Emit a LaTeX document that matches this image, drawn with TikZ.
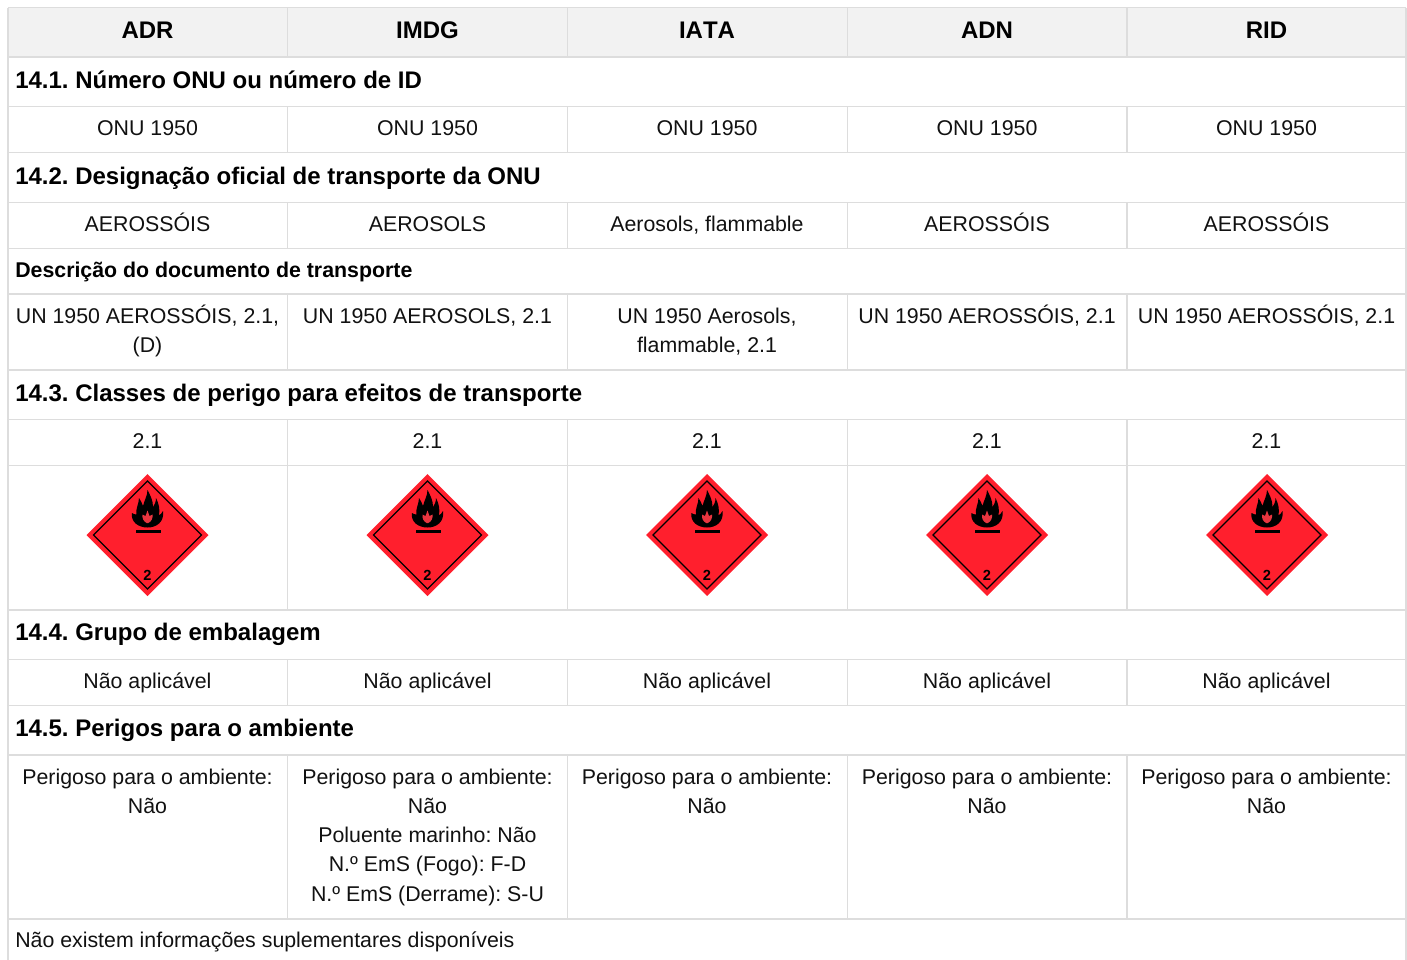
\documentclass[tikz,border=0pt]{standalone}
\usepackage{fontspec}
\setmainfont{Liberation Sans}
\frenchspacing
\definecolor{gridc}{HTML}{DDDDDD}
\definecolor{headc}{HTML}{F2F2F2}
\definecolor{txt}{HTML}{111111}
\definecolor{hazred}{HTML}{FF1F2D}
\definecolor{flamein}{HTML}{E8353F}
\newcommand{\firstline}{\rule{0pt}{16pt}}
\newcommand{\hazard}[2]{%
 \begin{scope}[shift={(#1,#2)}]
  \fill[hazred] (0,-61)--(61,0)--(0,61)--(-61,0)--cycle;
  \draw[black,line width=0.9pt] (0,-54)--(54,0)--(0,54)--(-54,0)--cycle;
  \fill[black] (-15.5,-22) .. controls (-17,-13) and (-9,-7.5) .. (0,-7.5)
    .. controls (9,-7.5) and (17,-13) .. (15.5,-24)
    .. controls (14.5,-22) and (13,-20.5) .. (11.5,-19.5)
    .. controls (12.5,-26) and (11.5,-31) .. (8.5,-37)
    .. controls (8.5,-33) and (7,-30) .. (5.5,-28)
    .. controls (5.5,-35) and (3,-39) .. (0,-45)
    .. controls (0,-39) and (-3.5,-34) .. (-4.5,-29)
    .. controls (-5.5,-32) and (-6.5,-34) .. (-8.5,-37)
    .. controls (-8.5,-31) and (-12,-27) .. (-11,-20.5)
    .. controls (-12.5,-20.5) and (-14,-21) .. (-15.5,-22) -- cycle;
  \fill[flamein] (0,-24.5) .. controls (0.8,-22) and (1.5,-20.5) .. (2,-19)
    .. controls (3,-19.5) and (4,-20) .. (5,-20.5)
    .. controls (5.5,-17) and (4,-13.5) .. (0.8,-12)
    -- (-0.8,-12)
    .. controls (-4,-13.5) and (-5.5,-17) .. (-5,-20.5)
    .. controls (-4,-20) and (-3,-19.5) .. (-2,-19)
    .. controls (-1.5,-20.5) and (-0.8,-22) .. (0,-24.5) -- cycle;
  \fill[black] (-12,-5) rectangle (13,-1.7);
 \end{scope}}
\tikzset{
 x=0.75pt,y=-0.75pt,
 cell/.style={inner sep=0pt,anchor=base,text=txt,font=\fontsize{16}{21.94}\selectfont},
 multi/.style={inner sep=0pt,anchor=north,align=center,text=txt,font=\fontsize{16}{21.94}\selectfont},
 hd/.style={inner sep=0pt,anchor=base,text=black,font=\fontsize{18}{22}\selectfont\bfseries},
 sec/.style={inner sep=0pt,anchor=base west,text=black,font=\fontsize{18}{22}\selectfont\bfseries},
 subsec/.style={inner sep=0pt,anchor=base west,text=black,font=\fontsize{16}{22}\selectfont\bfseries},
 note/.style={inner sep=0pt,anchor=base west,text=txt,font=\fontsize{16}{22}\selectfont},
 grid/.style={draw=gridc,line width=1pt},
 digit/.style={inner sep=0pt,text=black,font=\fontsize{11}{11}\selectfont\bfseries}
}
\begin{document}
\begin{tikzpicture}
\useasboundingbox (0,0) rectangle (1407,960);
\fill[white] (0,0) rectangle (1407,960);
\fill[headc] (8,7.5) rectangle (1406,57);
% horizontal rules
\foreach \y in {7.5,57,106.5,152.5,202.5,248.5,294,370,419.5,465.5,610,659.5,705.5,755,919}
  \draw[grid] (8,\y) -- (1406,\y);
% outer verticals
\draw[grid] (8,7.5) -- (8,960);
\draw[grid] (1406,7.5) -- (1406,960);
% inner verticals by row
\foreach \x in {287.5,567.5,847.5,1127}{
  \draw[grid] (\x,7.5) -- (\x,57);
  \draw[grid] (\x,106.5) -- (\x,152.5);
  \draw[grid] (\x,202.5) -- (\x,248.5);
  \draw[grid] (\x,294) -- (\x,370);
  \draw[grid] (\x,419.5) -- (\x,610);
  \draw[grid] (\x,659.5) -- (\x,705.5);
  \draw[grid] (\x,755) -- (\x,919);
}
% header
\node[hd] (h1) at (147.5,38) {ADR};
\node[hd] (h2) at (427.5,38) {IMDG};
\node[hd] (h3) at (707,38) {\addfontfeature{Kerning=Off}IATA};
\node[hd] (h4) at (987,38) {ADN};
\node[hd] (h5) at (1266.5,38) {RID};
% sections
\node[sec] (s1) at (15,88) {14.1. Número ONU ou número de ID};
\node[sec] (s2) at (15,184) {14.2. Designação oficial de transporte da ONU};
\node[subsec] (s2b) at (15,277) {Descrição do documento de transporte};
\node[sec] (s3) at (15,401) {14.3. Classes de perigo para efeitos de transporte};
\node[sec] (s4) at (15,640) {14.4. Grupo de embalagem};
\node[sec] (s5) at (15,736) {14.5. Perigos para o ambiente};
% rows with one text per column
\foreach \n/\x in {a/147.5,b/427.5,c/707,d/987,e/1266.5}{
  \node[cell] (onu\n) at (\x,135) {ONU 1950};
  \node[cell] (cl\n) at (\x,448) {2.1};
  \node[cell] (gr\n) at (\x,688) {Não aplicável};
}
% row 14.2
\node[cell] (de1) at (147.5,231) {AEROSSÓIS};
\node[cell] (de2) at (427.5,231) {AEROSOLS};
\node[cell] (de3) at (707,231) {Aerosols, flammable};
\node[cell] (de4) at (987,231) {AEROSSÓIS};
\node[cell] (de5) at (1266.5,231) {AEROSSÓIS};
% transport doc
\node[multi] (td1) at (147.5,302) {\firstline UN 1950 AEROSSÓIS, 2.1,\\(D)};
\node[multi] (td2) at (427.5,302) {\firstline UN 1950 AEROSOLS, 2.1};
\node[multi] (td3) at (707,302) {\firstline UN 1950 Aerosols,\\flammable, 2.1};
\node[multi] (td4) at (987,302) {\firstline UN 1950 AEROSSÓIS, 2.1};
\node[multi] (td5) at (1266.5,302) {\firstline UN 1950 AEROSSÓIS, 2.1};
% hazard labels
\foreach \n/\x in {a/147.5,b/427.5,c/707,d/987,e/1267}{
  \hazard{\x}{535}
  \node[digit] (dg\n) at (\x,575) {2};
}
% row 14.5
\foreach \n/\x in {a/147.5,c/707,d/987,e/1266.5}
  \node[multi] (env\n) at (\x,762.4) {\firstline Perigoso para o ambiente:\\Não};
\node[multi] (envb) at (427.5,762.4) {\firstline Perigoso para o ambiente:\\Não\\Poluente marinho: Não\\N.º EmS (Fogo): F-D\\N.º EmS (Derrame): S-U};
\node[note] (foot) at (15,947) {Não existem informações suplementares disponíveis};
\end{tikzpicture}
\end{document}
